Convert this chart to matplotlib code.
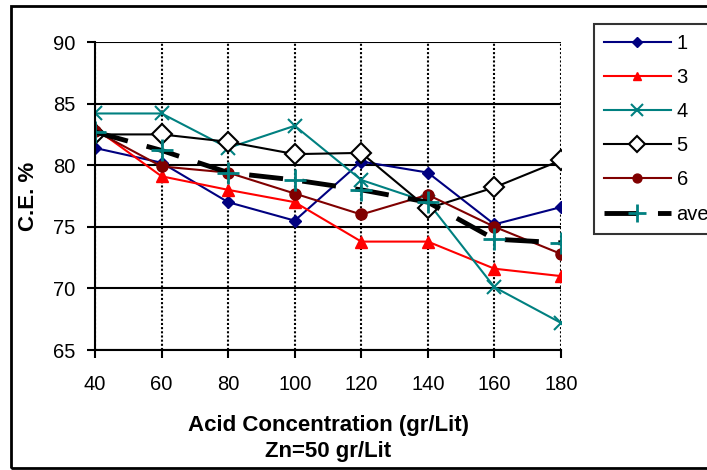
import numpy as np
import matplotlib.pyplot as plt
import matplotlib.patches as patches

plt.rcParams['font.family'] = ['Liberation Sans', 'DejaVu Sans']

# data
acid = [40, 60, 80, 100, 120, 140, 160, 180]
s1 = [81.4, 80.2, 77.0, 75.5, 80.3, 79.4, 75.2, 76.6]
s3 = [83.0, 79.1, 78.0, 77.0, 73.8, 73.8, 71.6, 71.0]
s4 = [84.2, 84.2, 81.4, 83.2, 78.8, 77.0, 70.1, 67.2]
s5 = [82.5, 82.5, 81.9, 80.9, 81.0, 76.5, 78.2, 80.4]
s6 = [82.8, 79.9, 79.4, 77.7, 76.0, 77.6, 75.0, 72.8]
ave = [82.7, 81.2, 79.4, 78.8, 78.0, 77.0, 74.0, 73.7]
series_names = ['1', '3', '4', '5', '6', 'average']

fig = plt.figure(figsize=(7.07, 4.70), dpi=100)
ax = fig.add_axes([0.1344, 0.2553, 0.6591, 0.6553])

ax.plot(acid, s1, color='#000080', marker='D', markersize=6, lw=1.5, label=series_names[0])
ax.plot(acid, s3, color='#FF0000', marker='^', markersize=8, lw=1.5, label=series_names[1])
ax.plot(acid, s4, color='#008080', marker='x', markersize=10, mew=1.5, lw=1.5, label=series_names[2])
ax.plot(acid, s5, color='black', marker='D', markersize=10, mfc='white', mew=1.5, lw=1.5,
        label=series_names[3])
ax.plot(acid, s6, color='#800000', marker='o', markersize=8, lw=1.5, label=series_names[4])
ax.plot(acid, ave, color='black', lw=3.5, dashes=(7, 4), marker='+', markersize=16,
        mec='#008080', mew=2, label=series_names[5])

ax.set_xlim(40, 180)
ax.set_ylim(65, 90)
ax.set_xticks(acid)
ax.set_yticks([65, 70, 75, 80, 85, 90])
ax.tick_params(labelsize=14.5, length=6, width=1.5, direction='out', pad=8)
ax.tick_params(axis='x', pad=12)

ax.yaxis.grid(True, color='black', lw=1.5)
ax.xaxis.grid(True, color='black', lw=1.5, linestyle=(0, (1, 1)))
ax.set_axisbelow(True)
for side in ['top', 'right']:
    ax.spines[side].set_visible(False)
for side in ['left', 'bottom']:
    ax.spines[side].set_linewidth(1.5)

ax.set_xlabel('Acid Concentration (gr/Lit)\nZn=50 gr/Lit', fontsize=16,
              fontweight='bold', labelpad=15, linespacing=1.35)
ax.set_ylabel('C.E. %', fontsize=16, fontweight='bold', labelpad=10)

leg = fig.legend(loc='upper left', bbox_to_anchor=(594 / 707, 1 - 24 / 470),
                 fontsize=14.5, frameon=True, fancybox=False, edgecolor='black',
                 handlelength=3.3, labelspacing=0.75, borderpad=0.5, handletextpad=0.3,
                 borderaxespad=0, markerscale=0.8)
leg.get_frame().set_linewidth(1.5)

border = patches.Rectangle((11 / 707, 2 / 470), 1.0, 1 - 8 / 470, transform=fig.transFigure,
                           fill=False, edgecolor='black', lw=2, clip_on=False)
fig.patches.append(border)

fig.savefig('out.png', dpi=100)
